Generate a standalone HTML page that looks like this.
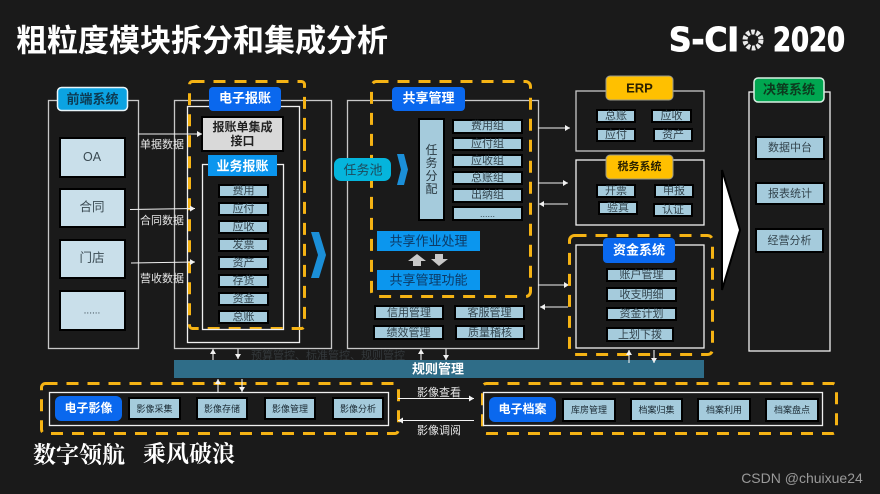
<!DOCTYPE html>
<html lang="zh"><head><meta charset="utf-8"><title>粗粒度模块拆分和集成分析</title>
<style>
html,body{margin:0;padding:0;background:#1a1a1a;width:880px;height:494px;overflow:hidden}
svg{display:block;font-family:"Liberation Sans","Noto Sans CJK SC",sans-serif}
text{text-anchor:middle;dominant-baseline:central}
.box{fill:none;stroke:#c8c8c8;stroke-width:1.3}
.wbox{fill:none;stroke:#f0f0f0;stroke-width:1.3}
.dash{fill:none;stroke:#f5b314;stroke-width:3;stroke-dasharray:12 9}
.item{fill:#a5cbdc;stroke:#000;stroke-width:2}
.big{fill:#c9dfea;stroke:#000;stroke-width:2}
.blue{fill:#0a68ee}
.ar{stroke:#f2f2f2;stroke-width:1.1;fill:none}
.t{fill:#33444d;font-size:11px}
.t9{fill:#1a2a33;font-size:9px}
.t13{fill:#3a4a52;font-size:12.5px}
.w{fill:#fff;font-weight:bold;font-size:13px}
.l{fill:#e6e6e6;font-size:11px}
</style></head><body>
<svg width="880" height="494" viewBox="0 0 880 494" xmlns="http://www.w3.org/2000/svg">
<defs>
<marker id="a" markerUnits="userSpaceOnUse" markerWidth="6" markerHeight="6" refX="5" refY="3" orient="auto"><path d="M0 0L5 3L0 6z" fill="#f2f2f2"/></marker>
</defs>
<rect width="880" height="494" fill="#1a1a1a"/>

<text x="202" y="41" fill="#fff" font-size="31" font-weight="bold">粗粒度模块拆分和集成分析</text>

<!-- logo -->
<text x="704" y="39.5" fill="#fff" font-size="33" font-weight="bold" stroke="#fff" stroke-width="1" style="font-family:'DejaVu Sans','Liberation Sans',sans-serif" textLength="70" lengthAdjust="spacingAndGlyphs">S-CI</text>
<circle cx="753" cy="40" r="8" fill="none" stroke="#e8e8e8" stroke-width="5" stroke-dasharray="3.5 1.6"/>
<circle cx="753" cy="40" r="4" fill="#1a1a1a"/>
<text x="809" y="39.5" fill="#fff" font-size="33" font-weight="bold" stroke="#fff" stroke-width="1" style="font-family:'DejaVu Sans','Liberation Sans',sans-serif" textLength="72" lengthAdjust="spacingAndGlyphs">2020</text>

<!-- 前端系统 -->
<rect class="box" x="48.5" y="100.5" width="90" height="248"/>
<rect x="57.5" y="87.5" width="70" height="23" rx="4" fill="#0ba3e2" stroke="#e8f4f8" stroke-width="1.5"/>
<text x="92.5" y="99" fill="#0d3a52" font-size="13" font-weight="bold">前端系统</text>
<rect class="big" x="60" y="138" width="65" height="39"/><text class="t13" x="92" y="157">OA</text>
<rect class="big" x="60" y="189" width="65" height="38"/><text class="t13" x="92" y="207">合同</text>
<rect class="big" x="60" y="240" width="65" height="38"/><text class="t13" x="92" y="258">门店</text>
<rect class="big" x="60" y="291" width="65" height="39"/><text class="t13" x="92" y="311" style="font-size:10px">......</text>

<!-- 电子报账 -->
<rect class="box" x="174.5" y="100.5" width="157" height="248"/>
<rect class="wbox" x="187.5" y="106.5" width="112" height="236"/>
<rect class="dash" x="189.5" y="81.5" width="115" height="247" rx="3"/>
<rect x="209" y="87" width="72" height="24" rx="4" class="blue"/>
<text class="w" x="245" y="98">电子报账</text>
<rect x="202" y="117" width="81" height="34" fill="#d9d9d9" stroke="#000" stroke-width="2"/>
<text x="242.5" y="127" fill="#222" font-size="12" font-weight="bold">报账单集成</text>
<text x="242.5" y="141" fill="#222" font-size="12" font-weight="bold">接口</text>
<rect class="wbox" x="202.5" y="164.5" width="81" height="165"/>
<rect x="208" y="155" width="69" height="21" fill="#0b96ee"/>
<text class="w" x="242.5" y="166">业务报账</text>
<g>
<rect class="item" x="219" y="185" width="49" height="12"/><text class="t" x="243.5" y="191">费用</text>
<rect class="item" x="219" y="203" width="49" height="12"/><text class="t" x="243.5" y="209">应付</text>
<rect class="item" x="219" y="221" width="49" height="12"/><text class="t" x="243.5" y="227">应收</text>
<rect class="item" x="219" y="239" width="49" height="12"/><text class="t" x="243.5" y="245">发票</text>
<rect class="item" x="219" y="257" width="49" height="12"/><text class="t" x="243.5" y="263">资产</text>
<rect class="item" x="219" y="275" width="49" height="12"/><text class="t" x="243.5" y="281">存货</text>
<rect class="item" x="219" y="293" width="49" height="12"/><text class="t" x="243.5" y="299">资金</text>
<rect class="item" x="219" y="311" width="49" height="12"/><text class="t" x="243.5" y="317">总账</text>
</g>
<path d="M311 232L319 232L326 255L319 278L311 278L318 255z" fill="#1b8fd8"/>

<!-- flow labels -->
<line class="ar" x1="138" y1="134" x2="202" y2="134" marker-end="url(#a)"/>
<text class="l" x="162" y="145">单据数据</text>
<line class="ar" x1="130" y1="209.5" x2="195" y2="208.5" marker-end="url(#a)"/>
<text class="l" x="162" y="221">合同数据</text>
<line class="ar" x1="131" y1="263" x2="195" y2="262" marker-end="url(#a)"/>
<text class="l" x="162" y="279">营收数据</text>

<!-- 共享管理 -->
<rect class="box" x="347.5" y="100.5" width="191" height="248"/>
<rect class="dash" x="371.5" y="81.5" width="159" height="215" rx="5"/>
<rect x="392" y="87" width="73" height="24" rx="4" class="blue"/>
<text class="w" x="428.5" y="98">共享管理</text>
<rect x="334" y="158" width="57" height="23" rx="7" fill="#05b5dc"/>
<text x="363" y="170" fill="#1c4a5c" font-size="13">任务池</text>
<path d="M397 154L404 154L408 169.5L404 185L397 185L401 169.5z" fill="#1b8fd8"/>
<rect class="item" x="419" y="119" width="25" height="101"/>
<text x="431.5" y="150" fill="#2a3a42" font-size="12">任</text>
<text x="431.5" y="163" fill="#2a3a42" font-size="12">务</text>
<text x="431.5" y="176" fill="#2a3a42" font-size="12">分</text>
<text x="431.5" y="189" fill="#2a3a42" font-size="12">配</text>
<rect class="item" x="453" y="120" width="69" height="13"/><text class="t" x="487.5" y="126">费用组</text>
<rect class="item" x="453" y="138" width="69" height="12"/><text class="t" x="487.5" y="144">应付组</text>
<rect class="item" x="453" y="155" width="69" height="12"/><text class="t" x="487.5" y="161">应收组</text>
<rect class="item" x="453" y="172" width="69" height="12"/><text class="t" x="487.5" y="178">总账组</text>
<rect class="item" x="453" y="189" width="69" height="13"/><text class="t" x="487.5" y="195">出纳组</text>
<rect class="item" x="453" y="207" width="69" height="13"/><text class="t" x="487.5" y="214" style="font-size:9px">......</text>
<rect x="377" y="231" width="103" height="20" fill="#0b96ee"/>
<text x="428.5" y="241" fill="#0c3a66" font-size="13">共享作业处理</text>
<path d="M417 254L426 261L421 261L421 266L413 266L413 261L408 261z" fill="#c8c8c8"/>
<path d="M435 254L443 254L443 259L448 259L439 266L431 259L435 259z" fill="#c8c8c8"/>
<rect x="377" y="270" width="103" height="20" fill="#0b96ee"/>
<text x="428.5" y="280" fill="#0c3a66" font-size="13">共享管理功能</text>
<rect class="item" x="375" y="306" width="68" height="13"/><text class="t" x="409" y="313">信用管理</text>
<rect class="item" x="455" y="306" width="69" height="13"/><text class="t" x="489.5" y="313">客服管理</text>
<rect class="item" x="374" y="326" width="69" height="13"/><text class="t" x="408.5" y="333">绩效管理</text>
<rect class="item" x="456" y="326" width="68" height="13"/><text class="t" x="490" y="333">质量稽核</text>

<line class="ar" x1="538" y1="128" x2="570" y2="128" marker-end="url(#a)"/>
<line class="ar" x1="538" y1="183" x2="568" y2="183" marker-end="url(#a)"/>
<line class="ar" x1="568" y1="204" x2="539" y2="204" marker-end="url(#a)"/>
<line class="ar" x1="538" y1="285" x2="569" y2="285" marker-end="url(#a)"/>
<line class="ar" x1="568" y1="307" x2="540" y2="307" marker-end="url(#a)"/>

<!-- ERP -->
<rect class="box" x="576" y="91" width="128" height="60"/>
<rect x="606" y="76" width="67" height="24" rx="4" fill="#ffc000" stroke="#9a9a8a" stroke-width="1"/>
<text x="639.5" y="88" fill="#2a2100" font-size="13" font-weight="bold">ERP</text>
<rect class="item" x="597" y="110" width="38" height="12"/><text class="t" x="616" y="116">总账</text>
<rect class="item" x="652" y="110" width="39" height="12"/><text class="t" x="671.5" y="116">应收</text>
<rect class="item" x="597" y="129" width="38" height="12"/><text class="t" x="616" y="135">应付</text>
<rect class="item" x="654" y="129" width="38" height="12"/><text class="t" x="673" y="135">资产</text>

<!-- 税务系统 -->
<rect class="wbox" x="576" y="160" width="128" height="65"/>
<rect x="606" y="155" width="67" height="24" rx="4" fill="#ffc000" stroke="#9a9a8a" stroke-width="1"/>
<text x="639.5" y="167" fill="#2a2100" font-size="11" font-weight="bold">税务系统</text>
<rect class="item" x="597" y="185" width="38" height="12"/><text class="t" x="616" y="191">开票</text>
<rect class="item" x="655" y="185" width="38" height="12"/><text class="t" x="674" y="191">申报</text>
<rect class="item" x="599" y="202" width="38" height="12"/><text class="t" x="618" y="208">验真</text>
<rect class="item" x="654" y="204" width="38" height="12"/><text class="t" x="673" y="210">认证</text>

<!-- 资金系统 -->
<rect class="wbox" x="576" y="245" width="128" height="103"/>
<rect class="dash" x="569.5" y="235.5" width="143" height="119" rx="5"/>
<rect x="603" y="238" width="72" height="25" rx="4" class="blue"/>
<text class="w" x="639" y="250">资金系统</text>
<rect class="item" x="607" y="269" width="69" height="12"/><text class="t" x="641.5" y="275">账户管理</text>
<rect class="item" x="607" y="288" width="69" height="13"/><text class="t" x="641.5" y="295">收支明细</text>
<rect class="item" x="607" y="308" width="69" height="12"/><text class="t" x="641.5" y="314">资金计划</text>
<rect class="item" x="607" y="328" width="66" height="13"/><text class="t" x="640" y="335">上划下拨</text>

<!-- big arrow -->
<path d="M722 170L740 230L722 290z" fill="#fff" stroke="#000" stroke-width="2"/>

<!-- 决策系统 -->
<rect class="wbox" x="749" y="92" width="81" height="259"/>
<rect x="754" y="78" width="70" height="24" rx="4" fill="#00a650" stroke="#d8efe2" stroke-width="1.5"/>
<text x="789" y="89.5" fill="#0c3a1e" font-size="13" font-weight="bold">决策系统</text>
<rect class="item" x="756" y="137" width="68" height="22"/><text class="t" x="790" y="148">数据中台</text>
<rect class="item" x="756" y="183" width="68" height="21"/><text class="t" x="790" y="194">报表统计</text>
<rect class="item" x="756" y="229" width="67" height="23"/><text class="t" x="789.5" y="241">经营分析</text>

<!-- 规则管理 -->
<text x="328" y="356" fill="#33383b" font-size="11">预算管控、标准管控、规则管控</text>
<rect x="174" y="360" width="530" height="18" fill="#2f6d88"/>
<text class="w" x="438" y="369">规则管理</text>
<line class="ar" x1="213" y1="360" x2="213" y2="349" marker-end="url(#a)"/>
<line class="ar" x1="238" y1="349" x2="238" y2="359" marker-end="url(#a)"/>
<line class="ar" x1="421" y1="360" x2="421" y2="349" marker-end="url(#a)"/>
<line class="ar" x1="446" y1="349" x2="446" y2="360" marker-end="url(#a)"/>
<line class="ar" x1="629" y1="363" x2="629" y2="350" marker-end="url(#a)"/>
<line class="ar" x1="654" y1="350" x2="654" y2="363" marker-end="url(#a)"/>

<!-- 电子影像 -->
<rect class="dash" x="41.5" y="383.5" width="357" height="50" rx="4"/>
<rect class="wbox" x="49.5" y="392.5" width="339" height="33" />
<line class="ar" x1="218" y1="392" x2="218" y2="379" marker-end="url(#a)"/>
<line class="ar" x1="242" y1="379" x2="242" y2="392" marker-end="url(#a)"/>
<rect x="55" y="396" width="67" height="25" rx="6" class="blue"/>
<text class="w" x="88.5" y="408" style="font-size:12px">电子影像</text>
<rect class="item" x="129" y="398" width="51" height="21"/><text class="t9" x="154.5" y="409">影像采集</text>
<rect class="item" x="197" y="398" width="50" height="21"/><text class="t9" x="222" y="409">影像存储</text>
<rect class="item" x="265" y="398" width="50" height="21"/><text class="t9" x="290" y="409">影像管理</text>
<rect class="item" x="333" y="398" width="50" height="21"/><text class="t9" x="358" y="409">影像分析</text>

<line class="ar" x1="398" y1="398.5" x2="474" y2="398.5" marker-end="url(#a)"/>
<text class="l" x="439" y="393">影像查看</text>
<line class="ar" x1="474" y1="420.5" x2="398" y2="420.5" marker-end="url(#a)"/>
<text class="l" x="439" y="431">影像调阅</text>

<!-- 电子档案 -->
<rect class="dash" x="482.5" y="383.5" width="354" height="50" rx="4"/>
<rect class="wbox" x="483.5" y="392.5" width="339" height="33"/>
<rect x="489" y="397" width="67" height="25" rx="6" class="blue"/>
<text class="w" x="522.5" y="409" style="font-size:12px">电子档案</text>
<rect class="item" x="563" y="399" width="52" height="22"/><text class="t9" x="589" y="410">库房管理</text>
<rect class="item" x="631" y="399" width="51" height="22"/><text class="t9" x="656.5" y="410">档案归集</text>
<rect class="item" x="698" y="399" width="52" height="22"/><text class="t9" x="724" y="410">档案利用</text>
<rect class="item" x="766" y="399" width="52" height="22"/><text class="t9" x="792" y="410">档案盘点</text>

<!-- slogan -->
<text x="79" y="453" fill="#fff" font-size="23" font-weight="bold" style="font-family:'Noto Serif CJK SC',serif">数字领航</text>
<text x="189" y="452" fill="#fff" font-size="23" font-weight="bold" style="font-family:'Noto Serif CJK SC',serif">乘风破浪</text>

<text x="802" y="478" fill="#9a9a9a" font-size="14">CSDN @chuixue24</text>
</svg>
</body></html>
